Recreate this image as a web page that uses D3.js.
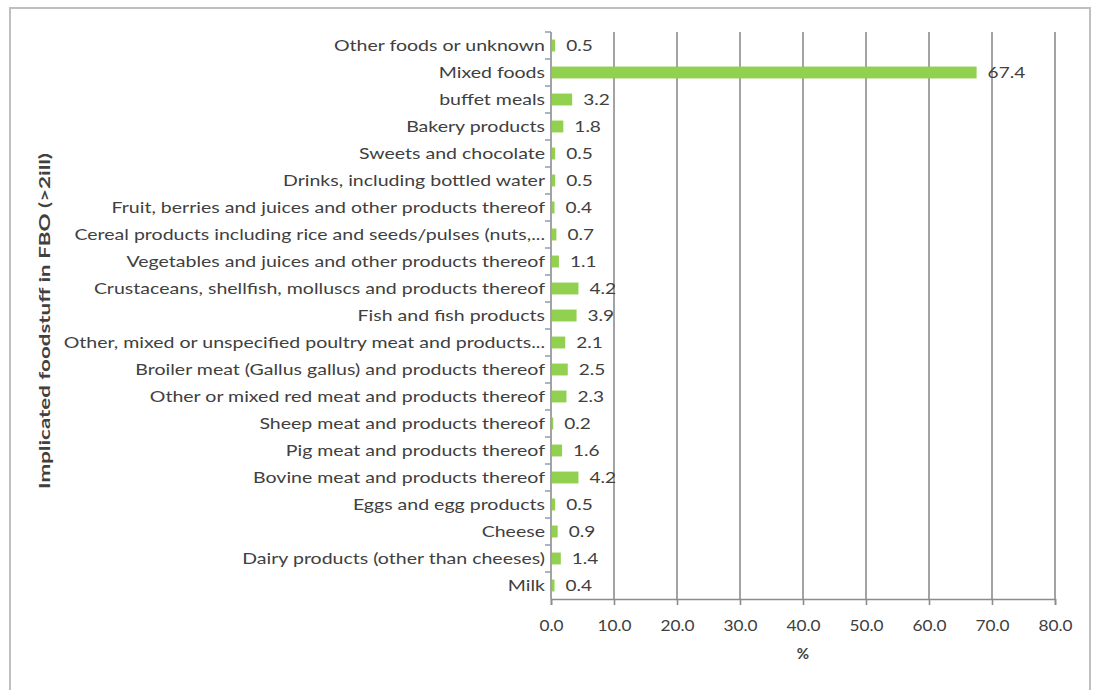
<!DOCTYPE html>
<html>
<head>
<meta charset="utf-8">
<script src="https://cdn.jsdelivr.net/npm/d3@7"></script>
<style>
  body { margin: 0; background: #fff; }
  #chart text { font-family: Lato, "Open Sans", sans-serif; }
</style>
</head>
<body>
<div id="chart"></div>
<script>
// categories, top to bottom as drawn
const categories = [
    "Other foods or unknown",
    "Mixed foods",
    "buffet meals",
    "Bakery products",
    "Sweets and chocolate",
    "Drinks, including bottled water",
    "Fruit, berries and juices and other products thereof",
    "Cereal products including rice and seeds/pulses (nuts,...",
    "Vegetables and juices and other products thereof",
    "Crustaceans, shellfish, molluscs and products thereof",
    "Fish and fish products",
    "Other, mixed or unspecified poultry meat and products...",
    "Broiler meat (Gallus gallus) and products thereof",
    "Other or mixed red meat and products thereof",
    "Sheep meat and products thereof",
    "Pig meat and products thereof",
    "Bovine meat and products thereof",
    "Eggs and egg products",
    "Cheese",
    "Dairy products (other than cheeses)",
    "Milk"
]
const percents = [0.5, 67.4, 3.2, 1.8, 0.5, 0.5, 0.4, 0.7, 1.1, 4.2, 3.9, 2.1, 2.5, 2.3, 0.2, 1.6, 4.2, 0.5, 0.9, 1.4, 0.4]
const xTicks = [0, 10, 20, 30, 40, 50, 60, 70, 80]
const xTitle = "%"
const yTitle = "Implicated foodstuff in FBO (>2ill)"

const data = categories.map((c, i) => ({ name: c, value: percents[i] }))

// Set margins and dimensions
const W = 1093, H = 690
const margin = { top: 32, right: 38, bottom: 91, left: 551 }
const width = W - margin.left - margin.right
const height = H - margin.top - margin.bottom
// the source text is drawn wide, so stretch it a bit
const stretch = 1.27
const labelStretch = 1.26

const XScale = d3.scaleLinear().domain([0, 80]).range([0, width])
const YScale = d3.scaleBand().domain(categories).range([0, height]).paddingInner(0.56).paddingOuter(0.28)
const band = d3.scaleBand().domain(categories).range([0, height])

const svg = d3.select("#chart")
    .append("svg")
    .attr("width", W)
    .attr("height", H)

// outer border
svg.append("rect")
    .attr("x", 10).attr("y", 8)
    .attr("width", 1080).attr("height", 700)
    .attr("fill", "none")
    .attr("stroke", "#bfbfbf")
    .attr("stroke-width", 2)

const g = svg.append("g")
    .attr("transform", "translate(" + margin.left + "," + margin.top + ")")

// vertical gridlines
g.append("g")
    .selectAll("line")
    .data(xTicks.slice(1))
    .enter().append("line")
    .attr("x1", d => XScale(d)).attr("x2", d => XScale(d))
    .attr("y1", 0).attr("y2", height)
    .attr("stroke", "#8c8c8c")
    .attr("stroke-width", 1.6)

// bars
g.append("g")
    .selectAll("rect")
    .data(data)
    .enter().append("rect")
    .attr("x", 1)
    .attr("y", d => YScale(d.name))
    .attr("width", d => XScale(d.value))
    .attr("height", YScale.bandwidth())
    .attr("fill", "#92d050")

// value labels
g.append("g")
    .selectAll("text")
    .data(data)
    .enter().append("text")
    .attr("transform", d => "translate(" + (XScale(d.value) + 12) + "," + (band(d.name) + band.bandwidth() / 2) + ") scale(" + stretch + ",1)")
    .attr("dy", "0.35em")
    .attr("font-size", 15)
    .attr("fill", "#404040")
    .text(d => d.value.toFixed(1))

// X axis
const XAxis = d3.axisBottom(XScale).tickValues(xTicks).tickSize(6).tickPadding(15).tickFormat(d3.format(".1f"))
const xg = g.append("g")
    .attr("transform", "translate(0," + height + ")")
    .call(XAxis)
xg.select(".domain").attr("stroke", "#8c8c8c").attr("stroke-width", 1.6)
xg.selectAll(".tick line").attr("stroke", "#8c8c8c").attr("stroke-width", 1.6)
xg.selectAll(".tick text")
    .attr("font-size", 15).attr("fill", "#404040").attr("font-family", "Lato")
    .attr("transform", "scale(1.15,1)")

g.append("text")
    .attr("x", width / 2)
    .attr("y", height + 60)
    .attr("text-anchor", "middle")
    .attr("font-size", 15)
    .attr("font-weight", "bold")
    .attr("fill", "#404040")
    .text(xTitle)

// Y axis with ticks at band boundaries
g.append("line")
    .attr("x1", 0).attr("x2", 0)
    .attr("y1", 0).attr("y2", height)
    .attr("stroke", "#8c8c8c")
    .attr("stroke-width", 1.6)
g.append("g")
    .selectAll("line")
    .data(categories)
    .enter().append("line")
    .attr("x1", -6).attr("x2", 0)
    .attr("y1", d => band(d)).attr("y2", d => band(d))
    .attr("stroke", "#8e9bb5")
    .attr("stroke-width", 1.5)

g.append("g")
    .selectAll("text")
    .data(categories)
    .enter().append("text")
    .attr("transform", d => "translate(-6," + (band(d) + band.bandwidth() / 2) + ") scale(" + labelStretch + ",1)")
    .attr("dy", "0.35em")
    .attr("text-anchor", "end")
    .attr("font-size", 15.5)
    .attr("fill", "#404040")
    .text(d => d)

svg.append("text")
    .attr("transform", "translate(50,321) rotate(-90)")
    .attr("text-anchor", "middle")
    .attr("font-size", 15)
    .attr("font-weight", "bold")
    .attr("fill", "#404040")
    .attr("textLength", 336)
    .attr("lengthAdjust", "spacingAndGlyphs")
    .text(yTitle)
</script>
</body>
</html>
